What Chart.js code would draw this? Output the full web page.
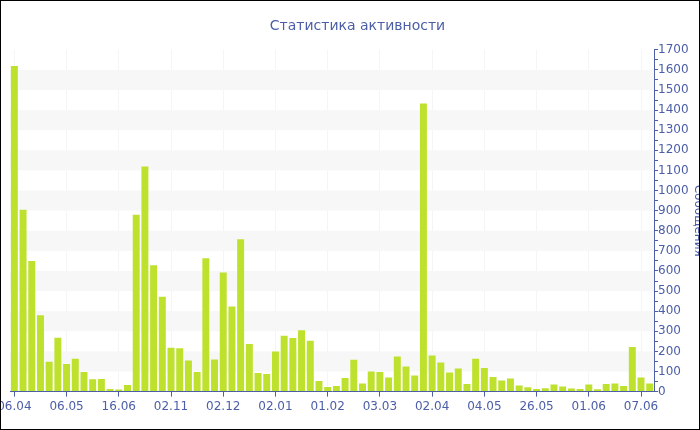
<!DOCTYPE html>
<html>
<head>
<meta charset="utf-8">
<script src="https://cdn.jsdelivr.net/npm/chart.js@4"></script>
<style>
  html, body { margin: 0; padding: 0; background: #fff; }
  #frame { position: relative; width: 700px; height: 430px; overflow: hidden; background: #fff; }
  #wrap { position: absolute; left: -12px; top: 0; width: 719px; height: 430px; }
  #border { position: absolute; left: 0; top: 0; width: 700px; height: 430px; box-sizing: border-box; border: 1px solid #000; pointer-events: none; }
</style>
</head>
<body>
<div id="frame">
  <div id="wrap"><canvas id="c" width="719" height="430"></canvas></div>
  <div id="border"></div>
</div>
<script>
const chartTitle = 'Статистика активности';
const axisTitle = 'Сообщения';
const tickLabels = ['06.04','06.05','16.06','02.11','02.12','02.01','01.02','03.03','02.04','04.05','26.05','01.06','07.06'];
const labelEvery = 6;
const messages = [
  1620, 905, 650, 380, 148, 268, 137, 163, 98, 62,
  63, 13, 10, 33, 880, 1120, 628, 472, 218, 215,
  155, 97, 663, 160, 592, 423, 758, 237, 93, 88,
  200, 278, 267, 305, 253, 53, 23, 28, 68, 158,
  40, 100, 98, 70, 175, 125, 80, 1433, 180, 145,
  95, 115, 38, 163, 117, 72, 55, 65, 30, 22,
  13, 17, 35, 25, 15, 13, 35, 12, 38, 40,
  28, 222, 70, 40
];
const yMax = 1700;
const yStep = 50;
const bandStep = 100;

const blue = '#4b5ea7';
const categories = messages.map((v, i) => (i % labelEvery === 0 ? (tickLabels[i / labelEvery] || '') : ''));

const bandsPlugin = {
  id: 'bands',
  beforeDatasetsDraw(chart) {
    const { ctx, chartArea, scales } = chart;
    const y = scales.y;
    ctx.save();
    ctx.fillStyle = '#f7f7f7';
    for (let v = bandStep; v < yMax; v += 2 * bandStep) {
      const top = y.getPixelForValue(v + bandStep);
      const bot = y.getPixelForValue(v);
      ctx.fillRect(chartArea.left, top, chartArea.right - chartArea.left, bot - top);
    }
    ctx.restore();
  }
};

new Chart(document.getElementById('c'), {
  type: 'bar',
  data: {
    labels: categories,
    datasets: [{
      label: axisTitle,
      data: messages,
      backgroundColor: '#bde12c',
      borderWidth: 0,
      barPercentage: 0.8,
      categoryPercentage: 1.0
    }]
  },
  options: {
    responsive: false,
    animation: false,
    layout: { padding: { left: 22, right: 2, top: 0, bottom: 13 } },
    plugins: {
      legend: { display: false },
      tooltip: { enabled: false },
      title: {
        display: true,
        text: chartTitle,
        color: blue,
        font: { family: 'DejaVu Sans', size: 14, weight: 'normal' },
        padding: { top: 18, bottom: 15 }
      }
    },
    scales: {
      x: {
        offset: true,
        grid: {
          offset: false,
          drawOnChartArea: true,
          color: (c) => (c.tick && c.tick.label ? '#f5f5f5' : 'rgba(0,0,0,0)'),
          tickColor: (c) => (c.tick && c.tick.label ? blue : 'rgba(0,0,0,0)'),
          tickLength: 5
        },
        border: { display: true, color: blue, width: 1 },
        ticks: {
          autoSkip: false,
          maxRotation: 0,
          minRotation: 0,
          color: blue,
          padding: 3,
          font: { family: 'DejaVu Sans', size: 12 }
        }
      },
      y: {
        position: 'right',
        min: 0,
        max: yMax,
        grid: { drawOnChartArea: false, color: blue, tickLength: 4 },
        border: { display: true, color: blue, width: 1 },
        ticks: {
          stepSize: yStep,
          autoSkip: false,
          color: blue,
          padding: 0,
          font: { family: 'DejaVu Sans', size: 12 },
          callback: (v) => (v % 100 === 0 ? String(v) : '')
        },
        title: {
          display: true,
          text: axisTitle,
          color: blue,
          font: { family: 'DejaVu Sans', size: 12 },
          padding: { top: 0, bottom: 2 }
        }
      }
    }
  },
  plugins: [bandsPlugin]
});
</script>
</body>
</html>
